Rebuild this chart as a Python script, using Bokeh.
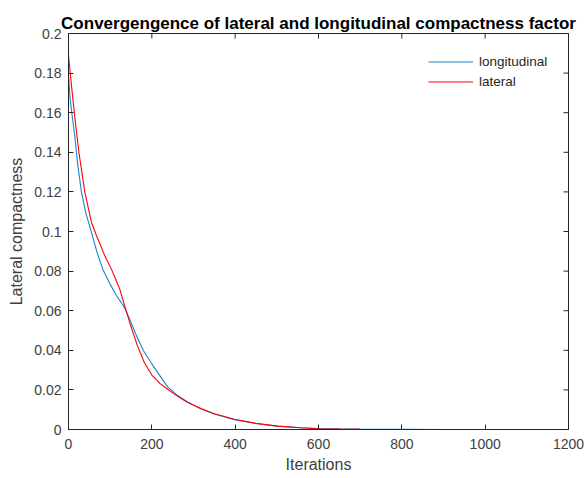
import math
from bokeh.plotting import figure
from bokeh.models import FixedTicker, Range1d
from bokeh.embed import file_html
from bokeh.resources import INLINE

# ---- data ----
long_x = [0, 4, 9, 15, 22, 31, 42, 55, 68, 83, 100, 115, 131, 139, 150, 165, 180, 198, 215, 238,
          260, 285, 318, 350, 398, 450, 501, 557, 600, 650, 700, 800, 900, 1000, 1025]
long_y = [0.179, 0.167, 0.158, 0.1485, 0.134, 0.120, 0.109, 0.0997, 0.0898, 0.0805, 0.0733, 0.0677,
          0.0627, 0.0595, 0.0540, 0.0465, 0.0398, 0.0338, 0.0285, 0.0215, 0.0175, 0.0140, 0.0104,
          0.0078, 0.0050, 0.0030, 0.0017, 0.0009, 0.0005, 0.0003, 0.0002, 0.0001, 0.0, 0.0, 0.0]

lat_x = [0, 5, 11, 15, 25, 39, 55, 67, 87, 103, 113, 123, 139, 150, 165, 182, 200, 220, 238, 260,
         285, 318, 350, 398, 450, 501, 557, 600, 650, 700, 800, 900, 1000, 1025]
lat_y = [0.189, 0.178, 0.166, 0.158, 0.140, 0.120, 0.1047, 0.098, 0.0878, 0.081, 0.076, 0.0709,
         0.0595, 0.0520, 0.0425, 0.0338, 0.0275, 0.0232, 0.0203, 0.0170, 0.0138, 0.0106, 0.0080,
         0.0052, 0.0031, 0.0017, 0.0009, 0.0004, 0.0002, 0.0001, 0.0, 0.0, 0.0, 0.0]

x_ticks = [0, 200, 400, 600, 800, 1000, 1200]
x_tick_labels = ["0", "200", "400", "600", "800", "1000", "1200"]
y_ticks = [0, 0.02, 0.04, 0.06, 0.08, 0.1, 0.12, 0.14, 0.16, 0.18, 0.2]
y_tick_labels = ["0", "0.02", "0.04", "0.06", "0.08", "0.1", "0.12", "0.14", "0.16", "0.18", "0.2"]
x_max = 1200
y_max = 0.2

series_names = ["longitudinal", "lateral"]
series_colors = ["#1a86cf", "#ff0000"]

FONT = "Liberation Sans"
AX = "#262626"
LBL = "#404040"

p = figure(width=586, height=478,
           x_range=Range1d(0, x_max), y_range=Range1d(0, y_max),
           output_backend="svg", toolbar_location=None,
           min_border_left=68, min_border_right=18, min_border_top=33, min_border_bottom=49,
           title="Convergengence of lateral and longitudinal compactness factor")

p.title.align = "center"
p.title.text_font = FONT
p.title.text_font_size = "17px"
p.title.text_font_style = "bold"
p.title.text_color = "#000000"
p.title.offset = 0
p.title.standoff = 1

p.xgrid.visible = False
p.ygrid.visible = False
p.outline_line_color = AX
p.outline_line_width = 1
p.background_fill_color = "white"
p.border_fill_color = "white"

def style_axis(ax, ticks, labels):
    ax.ticker = FixedTicker(ticks=ticks)
    ax.minor_tick_line_color = None
    ax.major_tick_in = 5
    ax.major_tick_out = 0
    ax.axis_line_color = AX
    ax.major_tick_line_color = AX
    ax.major_label_overrides = {t: l for t, l in zip(ticks, labels)}
    ax.major_label_text_font = FONT
    ax.major_label_text_font_size = "14px"
    ax.major_label_text_color = LBL
    ax.axis_label_text_font = FONT
    ax.axis_label_text_font_size = "16px"
    ax.axis_label_text_font_style = "normal"
    ax.axis_label_text_color = LBL

style_axis(p.xaxis[0], x_ticks, x_tick_labels)
style_axis(p.yaxis[0], y_ticks, y_tick_labels)
p.xaxis[0].axis_label = "Iterations"
p.yaxis[0].axis_label = "Lateral compactness"
p.xaxis[0].major_label_standoff = 9
p.xaxis[0].axis_label_standoff = 4
p.yaxis[0].major_label_standoff = 7
p.yaxis[0].axis_label_standoff = 6

# inward ticks on the top and right edges of the box (clipped to the frame)
p.scatter(x_ticks, [y_max] * len(x_ticks), marker="dash", size=10, angle=math.pi / 2,
          line_color=AX, line_width=1)
p.scatter([x_max] * len(y_ticks), y_ticks, marker="dash", size=10,
          line_color=AX, line_width=1)

p.line(long_x, long_y, line_color=series_colors[0], line_width=1.1, legend_label=series_names[0])
p.line(lat_x, lat_y, line_color=series_colors[1], line_width=1.1, legend_label=series_names[1])

legend = p.legend[0]
legend.location = (352, 330)
legend.border_line_alpha = 0
legend.background_fill_color = "white"
legend.background_fill_alpha = 1
legend.padding = 8
legend.margin = 0
legend.spacing = 1
legend.glyph_width = 45
legend.glyph_height = 19
legend.label_height = 19
legend.label_standoff = 6
legend.label_text_font = FONT
legend.label_text_font_size = "13.5px"
legend.label_text_color = AX

open("out.html", "w").write(file_html(p, INLINE))
